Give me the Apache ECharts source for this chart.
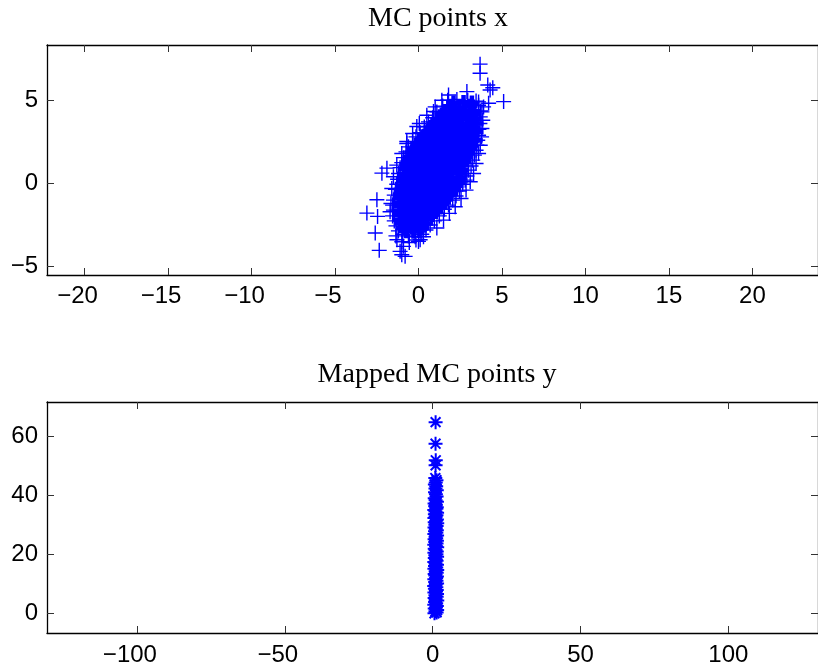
<!DOCTYPE html>
<html>
<head>
<meta charset="utf-8">
<title>MC points</title>
<script src="https://cdn.jsdelivr.net/npm/echarts@6/dist/echarts.min.js"></script>
<style>
  html, body { margin: 0; padding: 0; background: #ffffff; }
  #chart { width: 818px; height: 671px; }
</style>
</head>
<body>
<div id="chart"></div>
<script>
// Tick values for both panels
const topXTicks = [-20, -15, -10, -5, 0, 5, 10, 15, 20];
const topYTicks = [-5, 0, 5];
const bottomXTicks = [-100, -50, 0, 50, 100];
const bottomYTicks = [0, 20, 40, 60];

// Monte Carlo sample x = (x1, x2): dense centre of the cloud
const cloudCore = [
  [2.1,4.84],[2.7,4.87],[3.2,4.83],
  [1.85,4.62],[2.45,4.57],[3.05,4.64],
  [1.6,4.33],[2.2,4.38],[2.8,4.31],[3.3,4.36],
  [1.4,4.12],[1.95,4.07],[2.55,4.13],[3.1,4.08],[3.32,4.14],
  [1.15,3.86],[1.75,3.83],[2.3,3.88],[2.9,3.84],[3.35,3.87],
  [0.92,3.58],[1.45,3.63],[2.05,3.6],[2.6,3.57],[3.2,3.62],[3.45,3.6],
  [0.75,3.37],[1.3,3.33],[1.85,3.36],[2.4,3.32],[2.95,3.38],[3.27,3.34],
  [0.55,3.12],[1.1,3.08],[1.65,3.11],[2.2,3.07],[2.75,3.13],[3.22,3.09],[3.45,3.1],
  [0.35,2.84],[0.9,2.87],[1.45,2.83],[2.0,2.88],[2.55,2.85],[3.1,2.86],
  [0.15,2.62],[0.7,2.58],[1.25,2.61],[1.8,2.57],[2.35,2.63],[2.9,2.59],[3.15,2.6],[3.4,2.6],
  [-0.05,2.36],[0.5,2.33],[1.05,2.38],[1.6,2.34],[2.15,2.37],[2.7,2.32],[3.12,2.36],
  [-0.25,2.08],[0.3,2.12],[0.85,2.09],[1.4,2.13],[1.95,2.07],[2.5,2.11],[3.05,2.1],
  [-0.4,1.86],[0.15,1.83],[0.7,1.87],[1.25,1.84],[1.8,1.88],[2.35,1.85],[2.9,1.83],
  [-0.5,1.58],[0.05,1.62],[0.6,1.59],[1.15,1.63],[1.7,1.57],[2.25,1.61],[2.8,1.6],
  [-0.6,1.36],[-0.05,1.33],[0.5,1.37],[1.05,1.34],[1.6,1.38],[2.15,1.32],[2.7,1.35],
  [-0.7,1.12],[-0.15,1.08],[0.4,1.11],[0.95,1.07],[1.5,1.13],[2.05,1.09],[2.6,1.1],
  [-0.75,0.86],[-0.2,0.83],[0.35,0.87],[0.9,0.84],[1.45,0.88],[2.0,0.85],[2.55,0.83],
  [-0.8,0.58],[-0.25,0.62],[0.3,0.59],[0.85,0.63],[1.4,0.57],[1.95,0.61],[2.5,0.6],
  [-0.85,0.36],[-0.3,0.33],[0.25,0.37],[0.8,0.34],[1.35,0.38],[1.9,0.32],[2.45,0.35],
  [-0.9,0.12],[-0.35,0.08],[0.2,0.11],[0.75,0.07],[1.3,0.13],[1.85,0.09],[2.35,0.1],
  [-0.95,-0.14],[-0.4,-0.17],[0.15,-0.13],[0.7,-0.16],[1.25,-0.12],[1.8,-0.18],[2.25,-0.15],
  [-1.0,-0.42],[-0.45,-0.38],[0.1,-0.41],[0.65,-0.37],[1.2,-0.43],[1.75,-0.39],[2.1,-0.4],
  [-1.05,-0.64],[-0.5,-0.67],[0.05,-0.63],[0.6,-0.66],[1.15,-0.62],[1.7,-0.68],[1.92,-0.65],
  [-1.1,-0.88],[-0.55,-0.92],[0.0,-0.89],[0.55,-0.93],[1.1,-0.87],[1.65,-0.91],
  [-1.12,-1.16],[-0.6,-1.13],[-0.05,-1.17],[0.5,-1.14],[1.05,-1.18],[1.5,-1.15],
  [-1.13,-1.38],[-0.6,-1.42],[-0.05,-1.39],[0.45,-1.43],[0.95,-1.37],[1.3,-1.41],
  [-1.12,-1.66],[-0.58,-1.63],[-0.05,-1.67],[0.45,-1.64],[1.05,-1.68],
  [-1.1,-1.88],[-0.6,-1.92],[-0.1,-1.89],[0.4,-1.93],[0.82,-1.87],
  [-1.08,-2.16],[-0.55,-2.13],[-0.05,-2.17],[0.5,-2.14],
  [-1.0,-2.38],[-0.5,-2.42],[0.0,-2.39],[0.42,-2.41],
  [-0.9,-2.66],[-0.4,-2.63],[0.2,-2.67],
  [-0.75,-2.84],[-0.3,-2.87],[0.05,-2.83]
];

// Monte Carlo sample x: points along the rim and the scattered outliers
const cloudEdge = [
  [1.75,5.0],[2.3,5.05],[2.95,5.0],[3.45,4.95],[3.6,4.9],[3.9,4.6],
  [1.45,4.65],[3.6,4.7],[1.1,4.3],[3.72,4.35],[0.85,3.95],[3.7,4.0],
  [3.8,4.3],[3.85,3.8],[3.8,3.3],[3.78,2.8],[3.7,2.3],[3.6,1.8],
  [3.45,1.2],[3.3,0.6],[3.1,0.1],[2.85,-0.4],[2.55,-0.9],[2.2,-1.4],[1.85,-1.8],[1.5,-2.2],
  [0.6,3.7],[3.68,3.6],[0.35,3.4],[3.62,3.25],[0.1,3.05],[3.6,2.9],
  [-0.15,2.8],[3.55,2.6],[-0.35,2.5],[3.5,2.3],[-0.6,2.2],[3.45,2.0],
  [-0.75,1.9],[3.35,1.7],[-0.9,1.55],[3.25,1.4],[-1.0,1.25],[3.15,1.05],
  [-1.1,0.95],[3.0,0.8],[-1.2,0.6],[2.9,0.45],[-1.25,0.25],[2.8,0.2],
  [-1.3,-0.05],[2.65,-0.05],[-1.38,-0.35],[2.45,-0.45],[-1.45,-0.7],[2.25,-0.75],
  [-1.5,-1.0],[2.05,-1.0],[-1.55,-1.3],[1.8,-1.3],[-1.5,-1.6],[1.55,-1.55],
  [-1.55,-1.95],[1.25,-1.95],[-1.45,-2.25],[0.95,-2.25],[-1.35,-2.55],[0.7,-2.5],
  [-1.2,-2.85],[0.45,-2.8],[-0.95,-3.05],[0.2,-3.05],[-0.6,-3.15],[-0.2,-3.2],
  [-1.6,-0.3],[-1.65,-1.2],[-1.7,-1.7],[-1.5,0.4],[-1.3,1.1],[-1.0,1.8],
  [-0.7,2.4],[-0.35,3.0],[0.05,3.6],[0.5,4.1],[1.0,4.6],
  [-1.0,-3.5],[-0.55,-3.55],[-0.15,-3.4],[-1.35,-3.15],[0.3,-3.2],
  [3.69,7.17],[3.69,6.62],[5.1,4.92],[4.45,5.75],[4.15,5.92],[4.29,5.62],[4.2,4.82],
  [1.8,5.32],[1.4,5.0],[0.9,4.32],[-0.1,3.42],[-0.7,2.52],[2.9,5.52],
  [-2.19,0.62],[-1.89,0.92],[-2.49,-0.98],[-3.09,-1.78],[-2.45,-1.98],[-2.59,-2.98],
  [-2.35,-4.02],[-1.0,-4.28],[-0.9,-3.78],[-0.8,-4.38],[0.0,-3.48],[1.1,-2.68],
  [-1.29,-3.38],[0.1,-3.38],[-1.1,-4.08]
];

// Mapped sample y = (y1, y2)
const mappedPoints = [
  [0.62,0.1],[1.35,0.4],[0.95,0.8],[1.52,1.2],[0.7,1.7],[1.12,2.1],[1.42,2.6],[0.55,3.0],
  [1.2,3.5],[0.82,3.9],[1.56,4.4],[1.0,4.8],[0.66,5.3],[1.36,5.7],[0.93,6.2],[1.48,6.6],
  [0.6,7.1],[1.15,7.5],[1.4,8.0],[0.75,8.4],[1.25,8.9],[0.52,9.3],[1.05,9.8],[1.5,10.2],
  [0.85,10.7],[1.3,11.1],[0.58,11.6],[1.18,12.0],[1.45,12.5],[0.9,12.9],[0.68,13.4],[1.38,13.8],
  [1.02,14.3],[1.55,14.7],[0.6,15.2],[1.22,15.6],[0.8,16.1],[1.47,16.5],[0.97,17.0],[0.56,17.4],
  [1.33,17.9],[1.08,18.3],[0.72,18.8],[1.5,19.2],[0.9,19.7],[1.28,20.1],[0.6,20.6],[1.4,21.0],
  [1.0,21.5],[0.7,21.9],[1.53,22.4],[1.15,22.8],[0.55,23.3],[1.32,23.7],[0.88,24.2],[1.45,24.6],
  [0.65,25.1],[1.2,25.5],[0.98,26.0],[1.5,26.4],[0.58,26.9],[1.25,27.3],[0.8,27.8],[1.42,28.2],
  [1.05,28.7],[0.62,29.1],[1.35,29.6],[0.92,30.0],[1.55,30.5],[0.7,30.9],[1.18,31.4],[1.45,31.8],
  [0.6,32.3],[1.0,32.7],[1.3,33.2],[0.75,33.6],[1.5,34.1],[0.95,34.5],[0.55,35.0],[1.25,35.4],
  [1.4,35.9],[0.85,36.3],[1.1,36.8],[0.65,37.2],[1.45,37.8],[1.0,38.3],[0.7,39.0],[1.35,39.6],
  [1.1,40.3],[0.8,41.0],[1.4,41.7],[0.95,42.3],[1.2,43.0],[0.75,43.6],[1.05,44.3],[1.3,45.1],
  [0.9,45.8],[1.0,50.1],[1.05,51.8],[0.98,57.4],[1.0,64.7]
];

const BLUE = '#0000ff';
const PLUS = 'path://M0,50L100,50M50,0L50,100';
const STAR = 'path://M0,50L100,50M50,0L50,100M15,15L85,85M85,15L15,85';

const labelFamily = '"Liberation Sans", Arial, sans-serif';
const labelSize = 24;

// x labels: digits centred on the tick, the minus sign hangs to the left
const xLabel = v => v < 0 ? '{m|\u2212}' + Math.abs(v) + '{h|\u2212}' : String(v);
const yLabel = v => String(v).replace('-', '\u2212');

function xAxisPair(grid, min, max, ticks, margin) {
  const common = {
    type: 'value', gridIndex: grid, min: min, max: max,
    splitLine: { show: false },
    axisLine: { show: true, onZero: false, lineStyle: { color: '#000', width: 1.3 } },
    axisTick: { show: true, inside: true, length: 7, customValues: ticks, lineStyle: { color: '#333', width: 1 } }
  };
  return [
    Object.assign({}, common, {
      position: 'bottom',
      axisLabel: {
        show: true, margin: margin, customValues: ticks, formatter: xLabel,
        fontFamily: labelFamily, fontSize: labelSize, color: '#000',
        rich: {
          m: { fontFamily: labelFamily, fontSize: labelSize, color: '#000' },
          h: { fontFamily: labelFamily, fontSize: labelSize, color: 'rgba(0,0,0,0)' }
        }
      }
    }),
    Object.assign({}, common, { position: 'top', axisLabel: { show: false } })
  ];
}

function yAxisPair(grid, min, max, ticks) {
  const common = {
    type: 'value', gridIndex: grid, min: min, max: max,
    splitLine: { show: false },
    axisLine: { show: true, onZero: false, lineStyle: { color: '#000', width: 1.3 } },
    axisTick: { show: true, inside: true, length: 7, customValues: ticks, lineStyle: { color: '#333', width: 1 } }
  };
  return [
    Object.assign({}, common, {
      position: 'left',
      axisLabel: {
        show: true, margin: 9, customValues: ticks, formatter: yLabel,
        fontFamily: labelFamily, fontSize: labelSize, color: '#000'
      }
    }),
    Object.assign({}, common, { position: 'right', axisLabel: { show: false } })
  ];
}

const titleFont = '28px "Liberation Serif", "Times New Roman", serif';

const chart = echarts.init(document.getElementById('chart'), null, { renderer: 'canvas' });
chart.setOption({
  animation: false,
  backgroundColor: '#ffffff',
  graphic: [
    { type: 'text', x: 438, y: 19, style: { text: 'MC points x', font: titleFont, fill: '#000', textAlign: 'center', textVerticalAlign: 'middle' } },
    { type: 'text', x: 437, y: 375, style: { text: 'Mapped MC points y', font: titleFont, fill: '#000', textAlign: 'center', textVerticalAlign: 'middle' } }
  ],
  grid: [
    { left: 47, top: 45, width: 772, height: 230 },
    { left: 47, top: 402, width: 772, height: 231 }
  ],
  xAxis: xAxisPair(0, -22.25, 23.93, topXTicks, 9).concat(xAxisPair(1, -130.4, 130.3, bottomXTicks, 10)),
  yAxis: yAxisPair(0, -5.5, 8.32, topYTicks).concat(yAxisPair(1, -6.55, 71.5, bottomYTicks)),
  series: [
    {
      type: 'scatter', xAxisIndex: 0, yAxisIndex: 0, data: cloudCore,
      symbol: PLUS, symbolSize: 15, silent: true,
      itemStyle: { color: BLUE, borderColor: BLUE, borderWidth: 4.5, opacity: 1 }
    },
    {
      type: 'scatter', xAxisIndex: 0, yAxisIndex: 0, data: cloudEdge,
      symbol: PLUS, symbolSize: 15, silent: true,
      itemStyle: { color: BLUE, borderColor: BLUE, borderWidth: 1.4, opacity: 1 }
    },
    {
      type: 'scatter', xAxisIndex: 2, yAxisIndex: 2, data: mappedPoints,
      symbol: STAR, symbolSize: 14, silent: true,
      itemStyle: { color: BLUE, borderColor: BLUE, borderWidth: 2, opacity: 1 }
    }
  ]
});
</script>
</body>
</html>
